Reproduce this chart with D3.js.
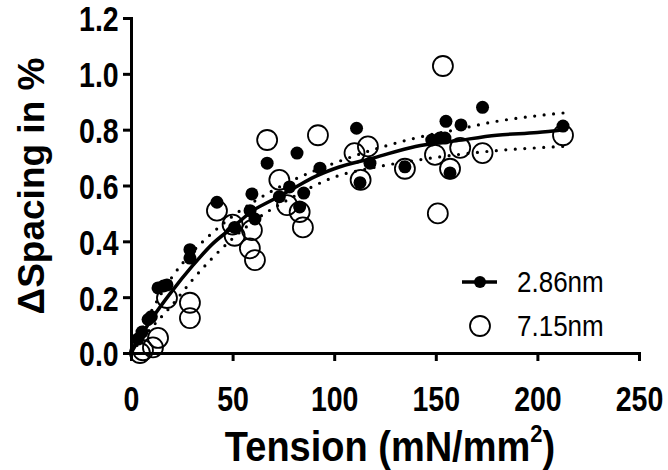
<!DOCTYPE html>
<html><head><meta charset="utf-8">
<script src="https://cdn.jsdelivr.net/npm/d3@7"></script>
<style>body{margin:0;background:#fff}svg{display:block}text{font-family:"Liberation Sans",Arial,sans-serif}</style>
</head><body>
<svg id="c" width="668" height="470"></svg>
<script>
// Data
const filled286 = [
  [3.4,0.05],[5.4,0.075],[8.4,0.12],[10,0.13],
  [13.3,0.233],[16,0.24],[17.7,0.244],
  [29,0.37],[29,0.34],[42.3,0.54],[51,0.45],
  [59.5,0.57],[58.6,0.51],[61,0.48],[67,0.68],
  [73,0.56],[78,0.595],[85,0.573],[83,0.523],[81.7,0.716],
  [93,0.662],[111,0.805],[112.7,0.61],[117.6,0.68],[134.8,0.667],
  [148,0.763],[152,0.77],[154.5,0.77],[155,0.83],[162.4,0.817],
  [157,0.645],[173,0.88],[212.6,0.813]
];
const open715 = [
  [4.4,0.0],[5.9,0.01],[10.8,0.02],[13.3,0.054],[17.7,0.197],
  [29,0.18],[29,0.125],[42.3,0.51],[50,0.46],[51,0.42],
  [59.5,0.44],[58.5,0.375],[61,0.333],[67,0.763],[73,0.62],
  [76.8,0.53],[83,0.505],[84.6,0.45],[92,0.78],[110,0.716],
  [113,0.62],[116.6,0.74],[134.8,0.66],[149.6,0.71],[151,0.50],
  [153.5,1.028],[157,0.66],[162,0.735],[173,0.716],[212.6,0.78]
];
const fitX     = [0,10,20,30,40,50,60,70,80,90,100,120,140,160,180,200,213];
const fitY     = [0,0.12,0.22,0.31,0.39,0.45,0.51,0.55,0.59,0.63,0.66,0.70,0.74,0.76,0.78,0.79,0.80];
const bandX    = [0,10,20,30,40,50,60,80,100,120,140,160,180,200,213];
const bandUp   = [0,0.15,0.27,0.36,0.43,0.49,0.54,0.62,0.68,0.73,0.77,0.80,0.83,0.85,0.86];
const bandLow  = [0,0.09,0.17,0.26,0.34,0.41,0.47,0.56,0.63,0.665,0.69,0.71,0.725,0.735,0.74];
const xTicks = [0,50,100,150,200,250];
const yTicks = [0,0.2,0.4,0.6,0.8,1.0,1.2];
const legendLabels = ["2.86nm","7.15nm"];

const svg = d3.select("#c");
const x = d3.scaleLinear().domain([0,250]).range([131,639]);
const y = d3.scaleLinear().domain([0,1.2]).range([353,18]);

// axes
const xAxis = d3.axisBottom(x).tickValues(xTicks).tickSize(8).tickFormat(d3.format("d"));
const yAxis = d3.axisLeft(y).tickValues(yTicks).tickSize(8).tickFormat(d3.format(".1f"));
const gx = svg.append("g").attr("transform","translate(0,353)").call(xAxis);
const gy = svg.append("g").attr("transform","translate(131,0)").call(yAxis);
[gx,gy].forEach(g=>{
  g.select(".domain").attr("stroke","#000").attr("stroke-width",3);
  g.selectAll(".tick line").attr("stroke","#000").attr("stroke-width",3);
  g.selectAll(".tick text").attr("fill","#000").attr("font-weight","bold")
   .attr("font-family","'Liberation Sans',Arial,sans-serif").attr("font-size",30);
});
gx.selectAll(".tick text").attr("dy",0).attr("y",48).attr("transform","scale(0.95,1.2)");
gy.selectAll(".tick text").attr("x",-13).attr("dy","0.36em").attr("transform","scale(0.95,1.2)");

// fit line and bands
const line = d3.line().x(d=>x(d[0])).y(d=>y(d[1])).curve(d3.curveMonotoneX);
const fit = fitX.map((v,i)=>[v,fitY[i]]);
const up = bandX.map((v,i)=>[v,bandUp[i]]);
const lo = bandX.map((v,i)=>[v,bandLow[i]]);
[up,lo].forEach(b=>svg.append("path").attr("d",line(b)).attr("fill","none")
  .attr("stroke","#000").attr("stroke-width",3.2).attr("stroke-linecap","round")
  .attr("stroke-dasharray","0 9.5"));

// points
svg.append("g").selectAll("circle").data(open715).join("circle")
  .attr("cx",d=>x(d[0])).attr("cy",d=>y(d[1])).attr("r",10)
  .attr("fill","none").attr("stroke","#000").attr("stroke-width",1.8);
svg.append("g").selectAll("circle").data(filled286).join("circle")
  .attr("cx",d=>x(d[0])).attr("cy",d=>y(d[1])).attr("r",6.5).attr("fill","#000");

svg.append("path").attr("d",line(fit)).attr("fill","none")
  .attr("stroke","#000").attr("stroke-width",3.5);

// legend
const lg = svg.append("g");
lg.append("line").attr("x1",462).attr("x2",497).attr("y1",282).attr("y2",282)
  .attr("stroke","#000").attr("stroke-width",3.5);
lg.append("circle").attr("cx",480).attr("cy",282).attr("r",6).attr("fill","#000");
lg.append("circle").attr("cx",480).attr("cy",326).attr("r",10).attr("fill","none")
  .attr("stroke","#000").attr("stroke-width",1.8);
lg.selectAll("text.lg").data(legendLabels).join("text").attr("class","lg")
  .attr("transform",(d,i)=>`translate(517,${282+i*44}) scale(1,1.12)`)
  .attr("dy","0.36em")
  .attr("font-size",26).attr("fill","#000").text(d=>d);

// titles
const xt = svg.append("text").attr("transform","translate(390,461) scale(1,1.1)")
  .attr("text-anchor","middle")
  .attr("font-size",38).attr("font-weight","bold").attr("fill","#000");
xt.append("tspan").text("Tension (mN/mm");
xt.append("tspan").attr("font-size",22).attr("dy",-17).text("2");
xt.append("tspan").attr("dy",17).text(")");

svg.append("text").attr("transform","translate(44,186) rotate(-90)")
  .attr("text-anchor","middle").attr("font-size",37).attr("font-weight","bold")
  .attr("fill","#000").text("ΔSpacing in %");
</script>
</body></html>
